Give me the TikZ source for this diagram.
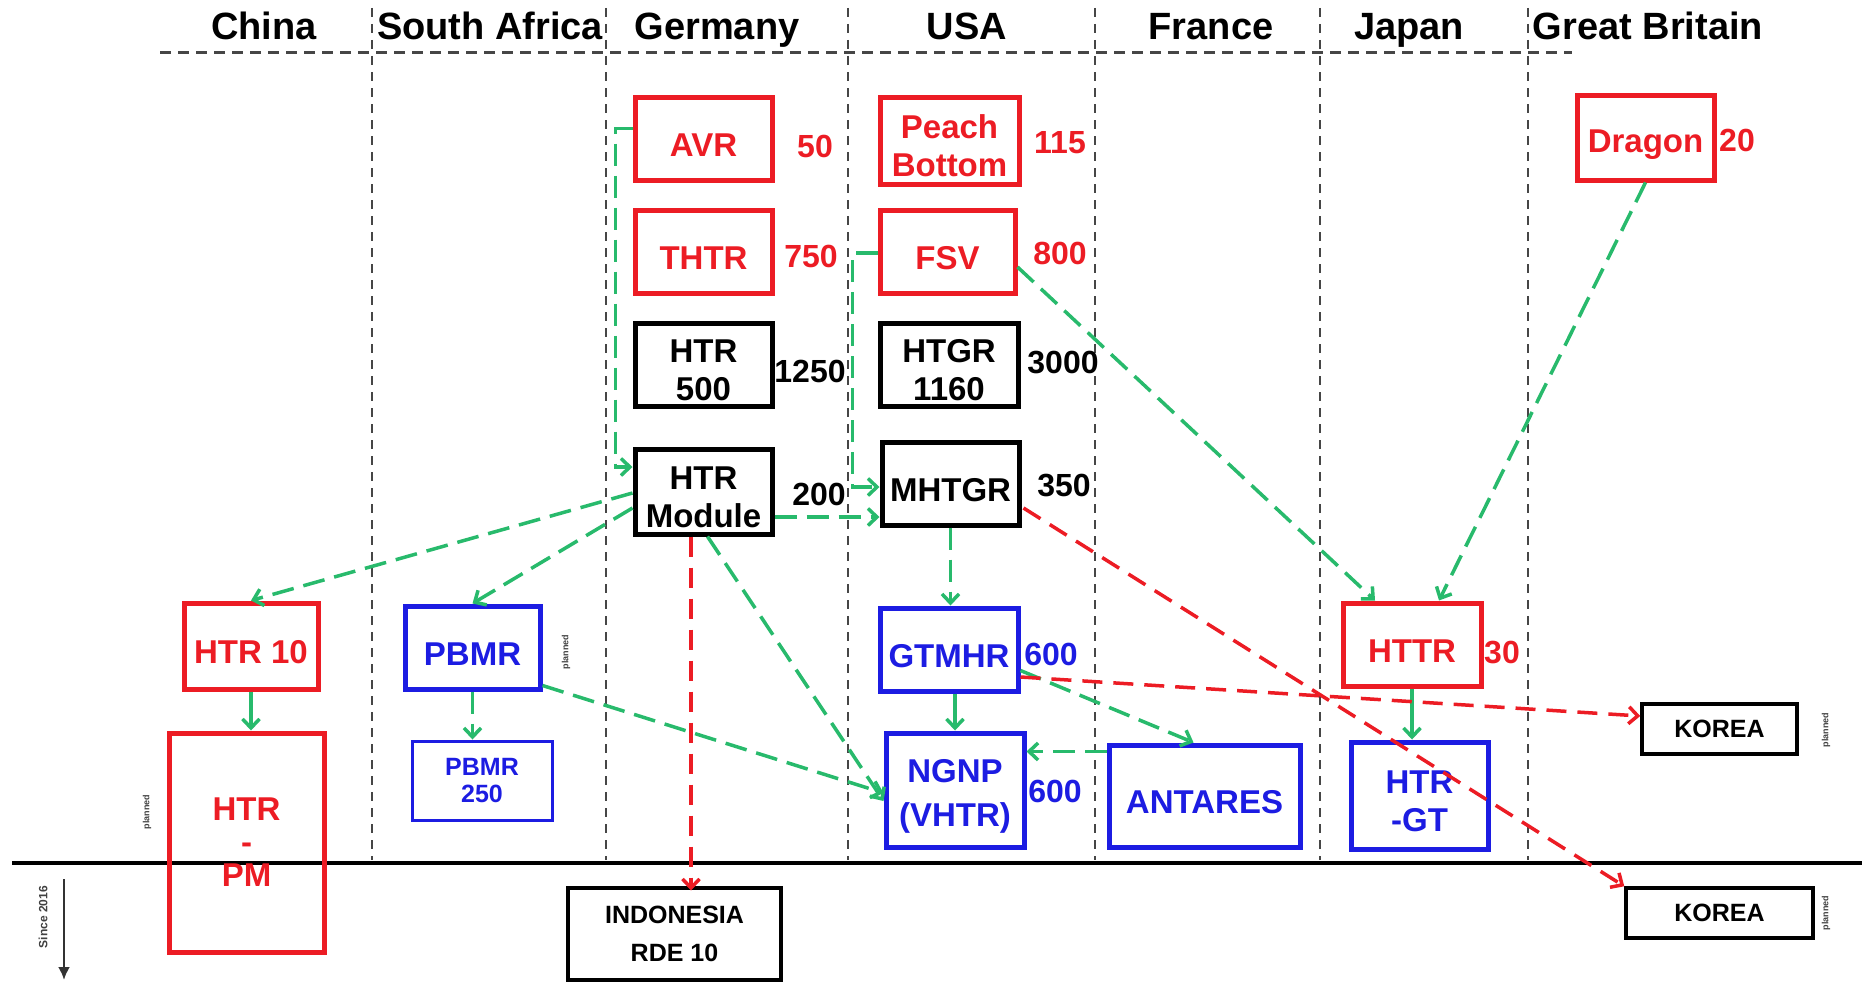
\documentclass[tikz,border=0pt]{standalone}
\usepackage{fontspec}
\setmainfont{Liberation Sans}
\usetikzlibrary{arrows.meta,calc}
\definecolor{rd}{RGB}{236,28,36}
\definecolor{bl}{RGB}{28,28,226}
\definecolor{gn}{RGB}{40,186,108}
\definecolor{sepc}{RGB}{70,70,70}
\newcommand\bxstrut{\rule{0pt}{35pt}}
\begin{document}
\begin{tikzpicture}[x=1pt,y=-1pt,
 box/.style={draw, line width=5pt, inner sep=0pt, align=center, font=\bfseries\fontsize{33}{38}\selectfont},
 rbox/.style={box, draw=rd, text=rd},
 kbox/.style={box, draw=black, text=black},
 bbox/.style={box, draw=bl, text=bl},
 st/.style={execute at begin node={\rule{0pt}{36pt}}},
 num/.style={font=\bfseries\fontsize{32}{36}\selectfont, inner sep=0pt},
 hdr/.style={font=\bfseries\fontsize{38}{40}\selectfont, inner sep=0pt, anchor=base},
 sepline/.style={draw=sepc, line width=2.5pt, dash pattern=on 9pt off 7pt},
 tipg/.style={-{Straight Barb[length=9pt,width=17pt]}},
 gline/.style={draw=gn, line width=3.5pt, dash pattern=on 22pt off 10pt, tipg},
 gsolid/.style={draw=gn, line width=3.5pt, tipg},
 rline/.style={draw=rd, line width=3.5pt, dash pattern=on 20pt off 11pt, tipg},
 tinytxt/.style={font=\bfseries\fontsize{9}{10}\selectfont, text=black!75, rotate=90, inner sep=0pt}]
\useasboundingbox (0,0) rectangle (1862,982);

% headers
\node[hdr] (hChina) at (264,40) {China};
\node[hdr] (hSA) at (490,40) {South Africa};
\node[hdr] (hGer) at (717,40) {Germany};
\node[hdr] (hUSA) at (967,40) {USA};
\node[hdr] (hFra) at (1211,40) {France};
\node[hdr] (hJap) at (1409,40) {Japan};
\node[hdr] (hGB) at (1648,40) {Great Britain};

% grid lines
\draw[draw=sepc, line width=3pt, dash pattern=on 11pt off 7pt] (160,53) -- (1572,53);
\foreach \xx in {372,606,848,1095,1320,1528}
  \draw[sepline] (\xx,8) -- (\xx,860);
\draw[line width=4pt] (12,863) -- (1862,863);

% boxes
\node[rbox, st, minimum width=137, minimum height=83] (AVR) at (703.5,138.5) {AVR};
\node[rbox, st, minimum width=137, minimum height=83] (THTR) at (703.5,251.5) {THTR};
\node[kbox, minimum width=137, minimum height=83] (HTR500) at (703.5,364.5) {\bxstrut HTR\\500};
\node[kbox, minimum width=137, minimum height=85] (HTRM) at (703.5,491.5) {\bxstrut HTR\\Module};
\node[rbox, minimum width=139, minimum height=87] (Peach) at (949.5,140.5) {\bxstrut Peach\\Bottom};
\node[rbox, st, minimum width=135, minimum height=83] (FSV) at (947.5,251.5) {FSV};
\node[kbox, minimum width=138, minimum height=83] (HTGR) at (949,364.5) {\bxstrut HTGR\\1160};
\node[kbox, st, minimum width=137, minimum height=83] (MHTGR) at (950.5,483.5) {MHTGR};
\node[rbox, st, minimum width=137, minimum height=85] (Dragon) at (1645.5,137.5) {Dragon};
\node[rbox, st, minimum width=134, minimum height=86] (HTR10) at (251,646) {HTR 10};
\node[rbox, minimum width=155, minimum height=219, font=\bfseries\fontsize{33}{33}\selectfont] (HTRPM) at (246.5,842.5) {HTR\\-\\PM};
\node[bbox, st, minimum width=135, minimum height=83] (PBMR) at (472.5,647.5) {PBMR};
\node[bbox, line width=3pt, minimum width=140, minimum height=79, font=\bfseries\fontsize{25}{27}\selectfont] (PBMR250) at (482,780.5) {PBMR\\250};
\node[bbox, st, minimum width=138, minimum height=83] (GTMHR) at (949,649.5) {GTMHR};
\node[bbox, minimum width=138, minimum height=114, font=\bfseries\fontsize{33}{44}\selectfont] (NGNP) at (955,790) {\bxstrut NGNP\\(VHTR)};
\node[bbox, st, minimum width=191, minimum height=102] (ANTARES) at (1204.5,796) {ANTARES};
\node[rbox, st, minimum width=138, minimum height=83] (HTTR) at (1412,644.5) {HTTR};
\node[bbox, minimum width=137, minimum height=107] (HTRGT) at (1419.5,795.5) {\bxstrut HTR\\-GT};
\node[kbox, line width=3.5pt, minimum width=155, minimum height=50, font=\bfseries\fontsize{25}{28}\selectfont] (KOREA1) at (1719.5,729) {KOREA};
\node[kbox, line width=3.5pt, minimum width=187, minimum height=50, font=\bfseries\fontsize{25}{28}\selectfont] (KOREA2) at (1719.5,913) {KOREA};
\node[kbox, line width=3.5pt, minimum width=213, minimum height=92, font=\bfseries\fontsize{25}{38}\selectfont] (INDO) at (674.5,934) {INDONESIA\\RDE 10};

% numbers
\node[num, text=rd] (n50) at (815,146) {50};
\node[num, text=rd] (n750) at (811,256) {750};
\node[num] (n1250) at (810,371) {1250};
\node[num] (n200) at (819,494) {200};
\node[num, text=rd] (n115) at (1060,143) {115};
\node[num, text=rd] (n800) at (1060,253) {800};
\node[num] (n3000) at (1063,363) {3000};
\node[num] (n350) at (1064,486) {350};
\node[num, text=rd] (n20) at (1737,140) {20};
\node[num, text=rd] (n30) at (1502,652) {30};
\node[num, text=bl] (n600a) at (1051,654) {600};
\node[num, text=bl] (n600b) at (1055,791) {600};

% tiny labels
\node[tinytxt] (tPBMR) at (566,652) {planned};
\node[tinytxt] (tK1) at (1826,730) {planned};
\node[tinytxt] (tK2) at (1826,913) {planned};
\node[tinytxt] (tPM) at (147,812) {planned};
\node[tinytxt, font=\bfseries\fontsize{12}{13}\selectfont] (tSince) at (43,917) {Since 2016};
\coordinate (sA) at (64,879);
\coordinate (sB) at (64,980);
\draw[line width=2.5pt, draw=black!80, -{Latex[length=13pt,width=12pt]}] (sA) -- (sB);

% green connectors
\draw[gline] ($(AVR.west)+(0,-10)$) -- ++(-17,0) |- ($(HTRM.west)+(0,-24.5)$);
\draw[gline] ($(FSV.west)+(0,1.5)$) -- ++(-25,0) |- ($(MHTGR.west)+(0,3.5)$);
\draw[gline] ($(HTRM.east)+(0,25.5)$) -- ($(MHTGR.west)+(0,33.5)$);
\draw[gline] ($(HTRM.west)+(0,1.5)$) -- (HTR10.north);
\draw[gline] ($(HTRM.west)+(0,16.5)$) -- (PBMR.north);
\draw[gline] ($(HTRM.south)+(4,0)$) -- ($(NGNP.west)+(0,11)$);
\draw[gline] ($(PBMR.south east)+(0,-6)$) -- ($(NGNP.west)+(0,3)$);
\draw[gline] (MHTGR.south) -- (MHTGR.south |- GTMHR.north);
\draw[gsolid] (NGNP.north |- GTMHR.south) -- (NGNP.north);
\draw[gline] ($(GTMHR.east)+(0,21)$) -- ($(ANTARES.north)+(-11,0)$);
\draw[gline] ($(ANTARES.north west)+(0,9)$) -- ($(NGNP.north east)+(0,21)$);
\draw[gline] ($(FSV.east)+(0,15.5)$) -- ($(HTTR.north)+(-37,0)$);
\draw[gline] (Dragon.south) -- ($(HTTR.north)+(27,0)$);
\draw[gsolid] (HTTR.south) -- (HTTR.south |- HTRGT.north);
\draw[gsolid] (HTR10.south) -- (HTR10.south |- HTRPM.north);
\draw[gline] (PBMR.south) -- (PBMR.south |- PBMR250.north);

% red connectors
\draw[rline] ($(HTRM.south)+(-12.5,0)$) -- ($(HTRM.south -| INDO.north)+(16.5,354)$);
\draw[rline] ($(MHTGR.east)+(2,24.5)$) -- (KOREA2.north west);
\draw[rline] ($(GTMHR.east)+(0,27.5)$) -- ($(KOREA1.west)+(0,-13)$);
\end{tikzpicture}
\end{document}
